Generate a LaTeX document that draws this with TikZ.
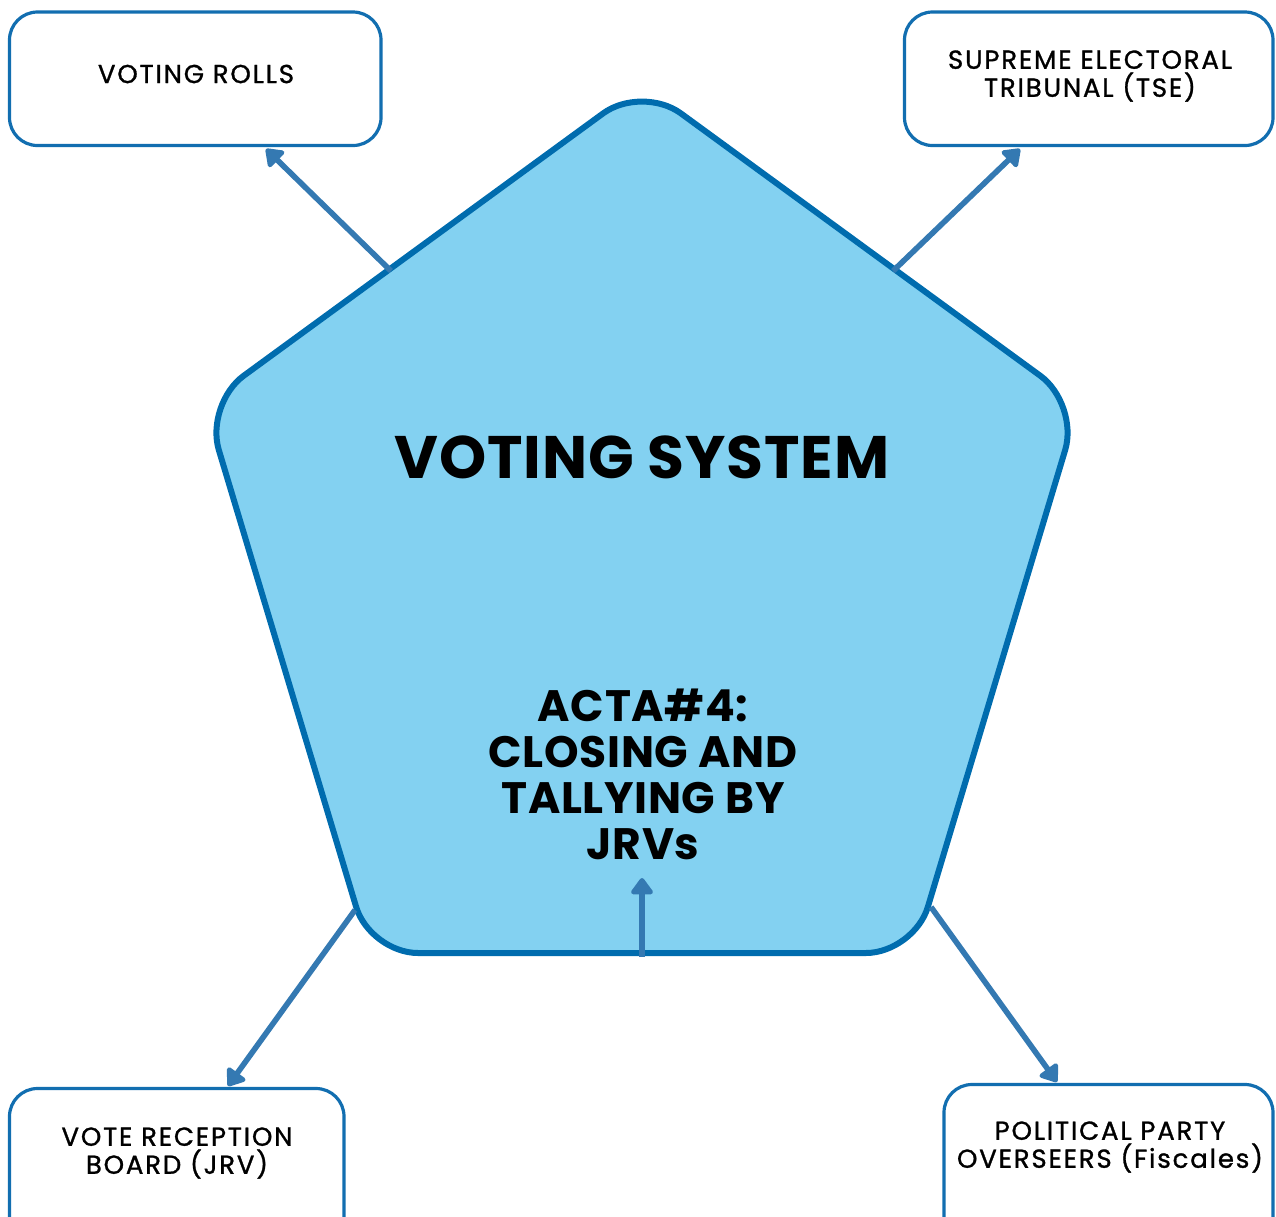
\documentclass[tikz,border=0pt]{standalone}
\usepackage{fontspec}
\setmainfont{Poppins}
\newfontfamily\boxfont{Poppins}[LetterSpace=7, FakeBold=1.1]
\newfontfamily\headfont{Poppins}[LetterSpace=1.5]
\usetikzlibrary{arrows.meta}
\definecolor{penline}{RGB}{0,108,174}
\definecolor{penfill}{RGB}{131,209,241}
\definecolor{boxline}{RGB}{18,110,176}
\definecolor{arrowcol}{RGB}{52,121,178}
\tikzset{
  infobox/.style={draw=boxline, line width=1.6pt, rounded corners=14pt, fill=white},
  boxtext/.style={font=\boxfont\fontsize{13}{14}\selectfont, align=center, text=black},
  link/.style={draw=arrowcol, line width=2.8pt,
    -{Triangle[length=9pt,width=12.5pt,round]}},
}
\begin{document}
\begin{tikzpicture}[x=0.5pt,y=-0.5pt]
\useasboundingbox (0,0) rectangle (1276,1217);
\clip (0,0) rectangle (1276,1217);

% outer boxes
\draw[infobox] (9.5,12) rectangle (381,145.5);
\draw[infobox] (904.5,12) rectangle (1273,145.5);
\draw[infobox] (9.5,1088.5) rectangle (344,1260);
\draw[infobox] (944,1084.5) rectangle (1273,1260);
\node[boxtext] (rolls) at (196,74) {VOTING ROLLS};
\node[boxtext] (tse) at (1090,76) {SUPREME ELECTORAL\\TRIBUNAL (TSE)};
\node[boxtext] (jrv) at (177,1153) {VOTE RECEPTION\\BOARD (JRV)};
\node[boxtext] (fisc) at (1110,1147) {POLITICAL PARTY\\OVERSEERS (Fiscales)};

% central pentagon
\draw[draw=penline, fill=penfill, line width=3pt, rounded corners=24pt]
  (642,85) -- (1079,404) -- (914,953) -- (370,953) -- (205,404) -- cycle;
\node[font=\headfont\fontsize{30}{34}\selectfont\bfseries] (title) at (642,457) {VOTING SYSTEM};
\node[font=\headfont\fontsize{22}{23}\selectfont\bfseries, align=center] (acta) at (643,774)
  {ACTA\#4:\\CLOSING AND\\TALLYING BY\\JRVs};

% connector end points
\coordinate (p1) at (391,271);
\coordinate (t1) at (266,149);
\coordinate (p2) at (893,271);
\coordinate (t2) at (1020,149);
\coordinate (p3) at (355,910);
\coordinate (t3) at (228,1086);
\coordinate (p4) at (931,907);
\coordinate (t4) at (1057,1082);
\coordinate (p5) at (642,957);
\coordinate (t5) at (642,878);

\draw[link] (p1) -- (t1);
\draw[link] (p2) -- (t2);
\draw[link] (p3) -- (t3);
\draw[link] (p4) -- (t4);
\draw[link] (p5) -- (t5);
\end{tikzpicture}
\end{document}
